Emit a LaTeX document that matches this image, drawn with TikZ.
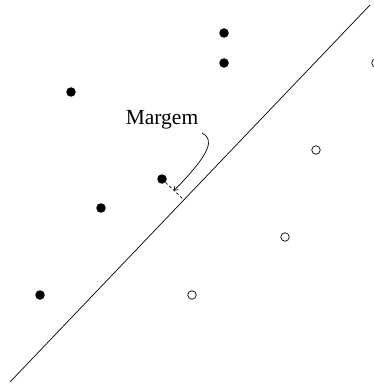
\documentclass[tikz,border=0pt]{standalone}
\usepackage{fontspec}
\setmainfont{Liberation Serif}
\usetikzlibrary{arrows.meta,calc}

\begin{document}
\begin{tikzpicture}[x=1pt,y=-1pt,
  posdot/.style={circle,fill=black,inner sep=0pt,minimum size=9.5pt},
  negdot/.style={circle,draw=black,line width=0.7pt,inner sep=0pt,minimum size=8.5pt}]
\useasboundingbox (0,0) rectangle (374,385);
% separating line
\coordinate (lo) at (10,382);
\coordinate (hi) at (370,5);
\draw[line width=0.7pt] (lo) -- (hi);
% class +1
\node[posdot] (p1) at (224,33) {};
\node[posdot] (p2) at (224,63) {};
\node[posdot] (p3) at (71,92) {};
\node[posdot] (p4) at (162,179) {};
\node[posdot] (p5) at (101,208) {};
\node[posdot] (p6) at (40,295) {};
% class -1
\node[negdot] (n1) at (376,63) {};
\node[negdot] (n2) at (316,150) {};
\node[negdot] (n3) at (285,237) {};
\node[negdot] (n4) at (192,295) {};
% margin
\coordinate (foot) at ($(lo)!(p4)!(hi)$);
\draw[line width=0.6pt,dash pattern=on 3pt off 2pt] (p4) -- (foot);
\coordinate (tip) at ($(p4)!0.55!(foot)$);
\node[font=\fontsize{21.5}{24}\selectfont] (lbl) at (162,120) {Margem};
\draw[line width=0.7pt,-{Straight Barb[length=3pt,width=5pt]}] (202,133) .. controls (214,139) and (212,152) .. (tip);
\end{tikzpicture}
\end{document}
